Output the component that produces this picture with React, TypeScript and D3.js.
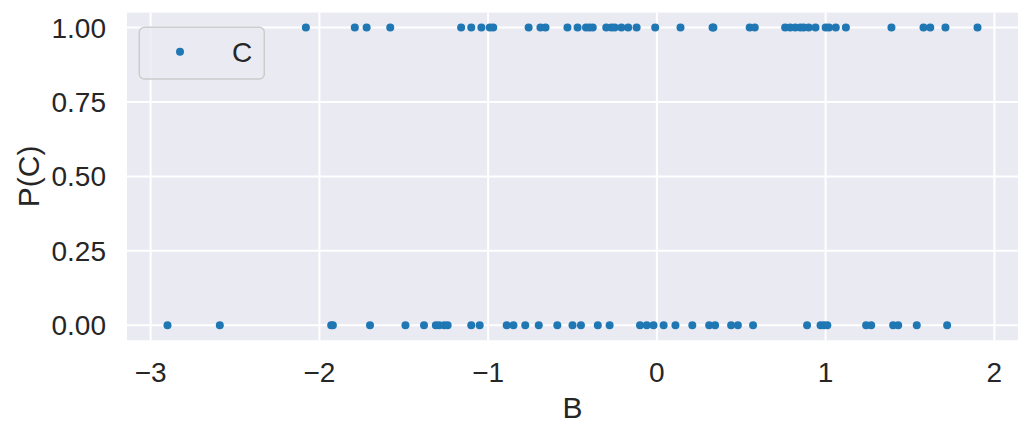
import React from "react";
import * as d3 from "d3";

const xTicks = [-3, -2, -1, 0, 1, 2];
const yTicks = [0, 0.25, 0.5, 0.75, 1.0];
const yTickLabels = ["0.00", "0.25", "0.50", "0.75", "1.00"];

// B values where C = 1
const bWhenC1 = [
  -2.08, -1.79, -1.72, -1.58, -1.16, -1.1, -1.04, -0.99, -0.97, -0.76, -0.69, -0.66,
  -0.53, -0.47, -0.42, -0.4, -0.38, -0.3, -0.27, -0.25, -0.21, -0.17, -0.12, -0.01,
  0.14, 0.33, 0.335, 0.55, 0.58, 0.76, 0.79, 0.82, 0.85, 0.87, 0.9, 0.94, 1.0, 1.02,
  1.06, 1.12, 1.39, 1.58, 1.62, 1.71, 1.9,
];
// B values where C = 0
const bWhenC0 = [
  -2.9, -2.59, -1.93, -1.92, -1.7, -1.49, -1.38, -1.31, -1.29, -1.26, -1.24, -1.1,
  -1.05, -0.89, -0.85, -0.78, -0.7, -0.59, -0.5, -0.45, -0.35, -0.28, -0.1, -0.06,
  -0.02, 0.04, 0.11, 0.21, 0.31, 0.345, 0.44, 0.48, 0.57, 0.89, 0.97, 0.99, 1.01,
  1.24, 1.27, 1.4, 1.43, 1.54, 1.72,
];

const W = 1033;
const H = 438;
const left = 127;
const right = 1018;
const top = 12.6;
const bottom = 340.2;
const FONT = "'Liberation Sans', Arial, sans-serif";
const TXT = "#262626";
const BLUE = "#1f77b4";

export default function App() {
  const x = d3.scaleLinear().domain([-3.14, 2.14]).range([left, right]);
  const y = d3.scaleLinear().domain([-0.05, 1.05]).range([bottom, top]);
  const pts = [
    ...bWhenC1.map((b) => ({ b, c: 1 })),
    ...bWhenC0.map((b) => ({ b, c: 0 })),
  ];
  return (
    <svg
      width={W}
      height={H}
      style={{ position: "absolute", left: 0, top: 0, background: "#fff" }}
    >
      <rect x={left} y={top} width={right - left} height={bottom - top} fill="#eaeaf2" />
      {xTicks.map((t) => (
        <line key={"gx" + t} x1={x(t)} x2={x(t)} y1={top} y2={bottom} stroke="#fff" strokeWidth={2} />
      ))}
      {yTicks.map((t) => (
        <line key={"gy" + t} x1={left} x2={right} y1={y(t)} y2={y(t)} stroke="#fff" strokeWidth={2} />
      ))}
      {pts.map((p, i) => (
        <circle key={i} cx={x(p.b)} cy={y(p.c)} r={4} fill={BLUE} />
      ))}
      {xTicks.map((t) => (
        <text
          key={"tx" + t}
          x={x(t)}
          y={381.5}
          textAnchor="middle"
          fontFamily={FONT}
          fontSize={28}
          fill={TXT}
        >
          {t < 0 ? "\u2212" + Math.abs(t) : String(t)}
        </text>
      ))}
      {yTicks.map((t, i) => (
        <text
          key={"ty" + t}
          x={106}
          y={y(t)}
          dy="0.36em"
          textAnchor="end"
          fontFamily={FONT}
          fontSize={28}
          fill={TXT}
        >
          {yTickLabels[i]}
        </text>
      ))}
      <text x={(left + right) / 2} y={418} textAnchor="middle" fontFamily={FONT} fontSize={30} fill={TXT}>
        B
      </text>
      <text
        transform={`translate(39,${(top + bottom) / 2}) rotate(-90)`}
        textAnchor="middle"
        fontFamily={FONT}
        fontSize={30}
        fill={TXT}
      >
        P(C)
      </text>
      <rect
        x={139.3}
        y={27.3}
        width={125}
        height={51.7}
        rx={5}
        fill="#eaeaf2"
        fillOpacity={0.8}
        stroke="#cccccc"
        strokeWidth={1.5}
      />
      <circle cx={180} cy={51.7} r={4} fill={BLUE} />
      <text x={232} y={51.7} dy="0.36em" fontFamily={FONT} fontSize={28} fill={TXT}>
        C
      </text>
    </svg>
  );
}
